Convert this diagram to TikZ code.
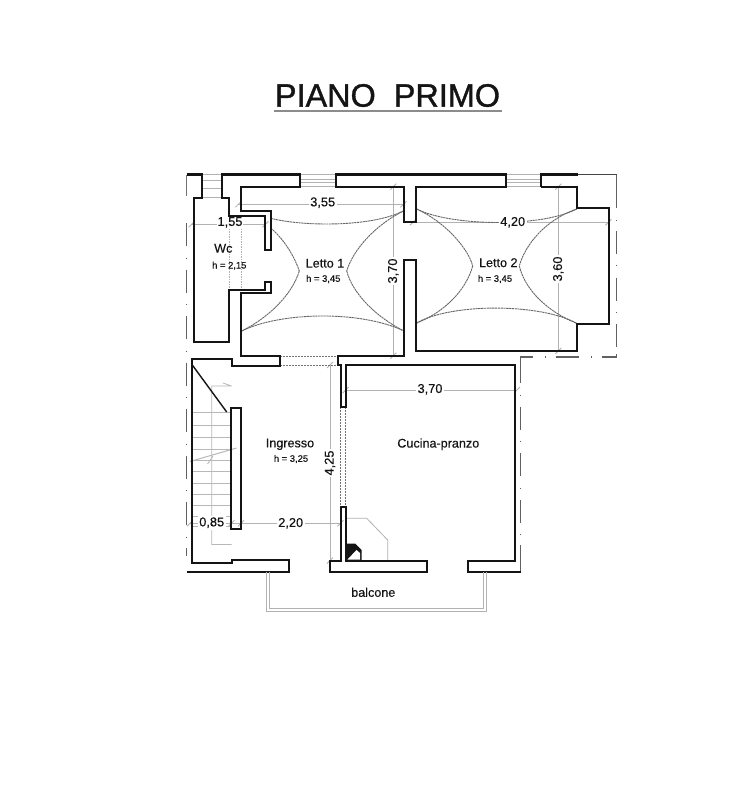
\documentclass[tikz,border=0pt]{standalone}
\usepackage{fontspec}
\setmainfont[RawFeature={embolden=0.35}]{Liberation Sans}
\newfontfamily\titlefont[RawFeature={embolden=1.1}]{Liberation Sans}
\definecolor{ink}{gray}{0.08}
\definecolor{dimg}{gray}{0.70}
\definecolor{stepg}{gray}{0.72}
\definecolor{curveg}{gray}{0.40}
\tikzset{
  wall/.style={draw=ink,line width=2.1pt,line join=miter},
  thinwall/.style={draw=ink!80,line width=1.2pt},
  dimline/.style={draw=dimg,line width=0.8pt},
  winline/.style={draw=dimg,line width=0.7pt},
  outline/.style={draw=black!62,line width=1.5pt},
  vault/.style={draw=curveg,line width=0.9pt,dash pattern=on 2.2pt off 0.6pt},
  doorline/.style={draw=black!55,line width=0.9pt,dash pattern=on 2pt off 1pt},
  room/.style={font=\fontsize{12.6}{14}\selectfont,text=ink,inner sep=0pt},
  hgt/.style={font=\fontsize{9.4}{11}\selectfont,text=ink,inner sep=0pt},
  dimtext/.style={font=\fontsize{12.8}{14}\selectfont,text=ink,fill=white,inner sep=1.6pt},
  tick/.style={draw=dimg,line width=0.8pt}
}
\newcommand{\dimtick}[2]{\draw[tick] (#1-3,#2+3) -- (#1+3,#2-3);}
\begin{document}
\begin{tikzpicture}[x=1pt,y=-1pt]
\useasboundingbox (0,0) rectangle (751,800);
\fill[white] (0,0) rectangle (751,800);

% title
\node[inner sep=0pt,text=ink,font=\titlefont\fontsize{32.4}{36}\selectfont] (title) at (387.5,95.5) {PIANO\hspace{0.28em} PRIMO};
\draw[draw=black!45,line width=1.5pt] (274,111) -- (502,111);

% outer dash-dot lines
\foreach \y in {223,269.5,316,362.5,409,455.5,502}
  \draw[outline] (186.7,\y) -- (186.7,\y+23) (186.7,\y+34.5) -- (186.7,\y+35.5);
\draw[outline] (186.7,548) -- (186.7,556);
\draw[draw=black!55,line width=1.1pt] (186.7,174.5) -- (186.7,196);
\draw[outline] (616.5,174.5) -- (616.5,208) (616.5,219.5) -- (616.5,220.5);
\foreach \y in {231,277.5,323.5}
  \draw[outline] (616.5,\y) -- (616.5,\y+23);
\draw[outline] (616.5,265) -- (616.5,266) (616.5,311.5) -- (616.5,312.5);
\draw[outline] (602,357) -- (616.5,357) -- (616.5,354);
\draw[outline] (591,357) -- (592,357) (556,357) -- (579,357) (545,357) -- (546,357);
\draw[outline] (533,357) -- (520.5,357) -- (520.5,383);
\draw[outline] (520.5,394.5) -- (520.5,395.5);
\foreach \y in {406.5,453,499.5}
  \draw[outline] (520.5,\y) -- (520.5,\y+23) (520.5,\y+34.5) -- (520.5,\y+35.5);
\draw[outline] (520.5,545) -- (520.5,571.5);

% windows
\foreach \y in {174.5,180,188,197.5} \draw[winline] (201.7,\y) -- (221.5,\y);
\foreach \y in {174.5,179,182.5,186.7} \draw[winline] (300,\y) -- (336,\y);
\foreach \y in {174.5,179,182.5,186.7} \draw[winline] (506,\y) -- (541,\y);

% stairs
\foreach \y in {412.3,425,437.3,449.3,460.7,471.7,483.3,494,505,516,526.7}
  \draw[draw=stepg,line width=0.8pt] (192.3,\y) -- (231,\y);
\draw[draw=stepg,line width=0.8pt] (223,383) -- (231.5,386) (231.5,386) -- (211.7,386) -- (211.7,544.5) -- (231.5,544.5);
\draw[draw=stepg,line width=1pt] (190,461.5) -- (236.5,448);
\draw[draw=stepg,line width=0.8pt] (207.5,464) -- (213,456);
\draw[draw=ink,line width=1.4pt] (192.3,365) -- (226.7,412);

% dimension lines
\draw[dimline] (238.3,204.3) -- (403.5,204.3);
\draw[dimline] (191.7,224.3) -- (265.5,224.3);
\draw[dimline] (393.3,186.7) -- (393.3,355.7);
\draw[dimline] (413,222.3) -- (608.5,222.3);
\draw[dimline] (558.3,186.7) -- (558.3,351);
\draw[dimline] (330,365) -- (330,560.5);
\draw[dimline] (345.7,390) -- (517,390);
\draw[dimline] (190,523.3) -- (340.5,523.3);
\draw[dimline,dash pattern=on 1.5pt off 1pt] (229.3,216) -- (229.3,290);
\draw[dimline,dash pattern=on 1.5pt off 1pt] (241,216) -- (241,290);
\dimtick{238.3}{204.3}\dimtick{403.5}{204.3}\dimtick{191.7}{224.3}\dimtick{265.5}{224.3}
\dimtick{393.3}{186.7}\dimtick{393.3}{355.7}\dimtick{413}{222.3}\dimtick{608.5}{222.3}
\dimtick{558.3}{186.7}\dimtick{558.3}{351}\dimtick{330}{365}\dimtick{330}{560.5}
\dimtick{345.7}{390}\dimtick{517}{390}\dimtick{190}{523.3}\dimtick{231.5}{523.3}\dimtick{241}{523.3}\dimtick{340.5}{523.3}

% hood
\draw[draw=dimg,line width=0.8pt] (345.7,518.3) -- (366.7,518.3) -- (387.7,540) -- (387.7,560.7);

% vaults, Letto 1
\draw[vault] (270.7,218.3) .. controls (300,226) and (370,228) .. (404,210.7);
\draw[vault] (241.7,331) .. controls (280,312) and (360,310) .. (404,331);
\draw[vault] (270.7,228) .. controls (285,240) and (295,258) .. (299.3,271);
\draw[vault] (299.3,271) .. controls (292,295) and (268,318) .. (241.7,331);
\draw[vault] (404,210.7) .. controls (375,225) and (353,250) .. (346.7,271);
\draw[vault] (346.7,271) .. controls (353,295) and (378,318) .. (404,331);
% vaults, Letto 2
\draw[vault] (416.7,209) .. controls (450,226) and (540,228) .. (576.7,209);
\draw[vault] (416,323.3) .. controls (450,303) and (540,303) .. (576.7,323.3);
\draw[vault] (416.7,209) .. controls (445,222) and (468,248) .. (472.7,266);
\draw[vault] (472.7,266) .. controls (466,290) and (445,312) .. (416,323.3);
\draw[vault] (576.7,209) .. controls (545,220) and (525,245) .. (519.3,266);
\draw[vault] (519.3,266) .. controls (525,290) and (548,312) .. (576.7,323.3);

% doors
\draw[doorline] (280,356.5) -- (338.3,356.5);
\draw[doorline] (280,365) -- (340.7,365);
\draw[doorline] (340.7,407.3) -- (340.7,506.7);
\draw[doorline] (345.7,407.3) -- (345.7,506.7);

% walls
\draw[wall] (186.7,174.5) -- (201.7,174.5) -- (201.7,197.7) -- (194,197.7) -- (194,342) -- (229.3,342) -- (229.3,290) -- (265,290) -- (265,282.3) -- (270.7,282.3) -- (270.7,293.3) -- (241,293.3) -- (241,356) -- (280,356) -- (280,366) -- (231.7,366) -- (231.7,359.3) -- (192.3,359.3) -- (192.3,563.3) -- (231.7,563.3) -- (231.7,560) -- (289.3,560) -- (289.3,571.7) -- (186.7,571.7);
\draw[wall] (221.7,197.7) -- (221.7,174.5) -- (300,174.5) -- (300,186.7) -- (241,186.7) -- (241,211) -- (270.7,211) -- (270.7,250) -- (265.3,250) -- (265.3,215.7) -- (229.3,215.7) -- (229.3,197.7) -- cycle;
\draw[wall] (336,174.5) -- (506,174.5) -- (506,186.7) -- (416,186.7) -- (416,222.3) -- (404,222.3) -- (404,186.7) -- (336,186.7) -- cycle;
\draw[wall] (541,186.7) -- (576.7,186.7) -- (576.7,207.7) -- (609.3,207.7) -- (609.3,324.3) -- (576.7,324.3) -- (576.7,351) -- (416,351) -- (416,260) -- (404,260) -- (404,356) -- (338.3,356) -- (338.3,365) -- (340.7,365) -- (340.7,407.3) -- (345.7,407.3) -- (345.7,365) -- (515,365) -- (515,560.7) -- (467.7,560.7) -- (467.7,571.7) -- (520.5,571.7);
\draw[wall] (578,174.5) -- (541,174.5) -- (541,186.7);
\draw[thinwall] (578,174.5) -- (616.5,174.5);
\draw[wall] (231,408.3) rectangle (241,529.3);
\draw[wall] (345.7,506.7) -- (345.7,560.7) -- (426.7,560.7) -- (426.7,571.7) -- (330,571.7) -- (330,560.7) -- (340.7,560.7) -- (340.7,506.7) -- cycle;

% flue
\fill[ink] (345.7,560.7) -- (345.7,543.5) -- (355,543.5) -- (361.7,550) -- (361.7,560.7) -- cycle;
\fill[white] (347.5,559.5) -- (360,559.5) -- (360,553) -- (356.5,550) -- cycle;

% balcony
\draw[winline] (266.7,571.7) -- (266.7,611.7) -- (486,611.7) -- (486,571.7);
\draw[winline] (269.3,571.7) -- (269.3,608) -- (483.3,608) -- (483.3,571.7);

% dimension values
\node[dimtext] (d355) at (322.7,202.7) {3,55};
\node[dimtext,inner sep=0.5pt] (d155) at (230,222.3) {1,55};
\node[dimtext,rotate=90] (d370a) at (393.3,271) {3,70};
\node[dimtext] (d420) at (512.7,222.3) {4,20};
\node[dimtext,rotate=90] (d360) at (558.3,269) {3,60};
\node[dimtext,rotate=90] (d425) at (330,463) {4,25};
\node[dimtext] (d370b) at (430,389.3) {3,70};
\node[dimtext] (d085) at (211.7,522.7) {0,85};
\node[dimtext] (d220) at (290.7,523.3) {2,20};

% room labels
\node[room] (wc) at (223.3,248.3) {Wc};
\node[hgt] (hwc) at (229.3,265.7) {h = 2,15};
\node[room] (l1) at (325,263.3) {Letto 1};
\node[hgt] (hl1) at (323.3,279) {h = 3,45};
\node[room] (l2) at (498.3,262.7) {Letto 2};
\node[hgt] (hl2) at (495,279) {h = 3,45};
\node[room] (ing) at (290,444.3) {Ingresso};
\node[hgt] (hing) at (291,459) {h = 3,25};
\node[room] (cuc) at (438.3,444.3) {Cucina-pranzo};
\node[room] (bal) at (373.3,592.3) {balcone};
\end{tikzpicture}
\end{document}
